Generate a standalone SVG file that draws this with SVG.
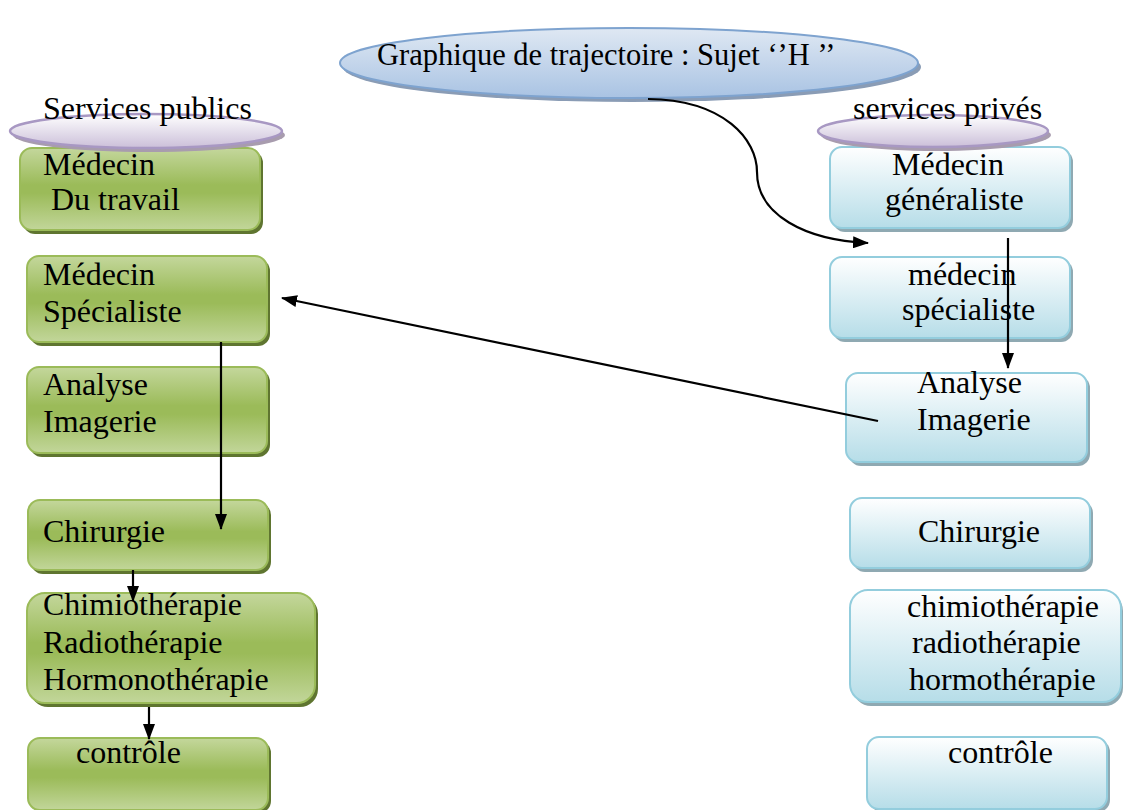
<svg xmlns="http://www.w3.org/2000/svg" width="1123" height="810" viewBox="0 0 1123 810">
<defs>
<linearGradient id="gGreen" x1="0" y1="0" x2="0" y2="1">
<stop offset="0" stop-color="#c4d79c"/>
<stop offset="0.45" stop-color="#9bbb59"/>
<stop offset="0.55" stop-color="#9bbb59"/>
<stop offset="1" stop-color="#c2d69a"/>
</linearGradient>
<linearGradient id="gBlue" x1="0" y1="0" x2="0" y2="1">
<stop offset="0" stop-color="#ffffff"/>
<stop offset="1" stop-color="#b6dde8"/>
</linearGradient>
<linearGradient id="gPurple" x1="0" y1="0" x2="0" y2="1">
<stop offset="0" stop-color="#ffffff"/>
<stop offset="1" stop-color="#cbbfd9"/>
</linearGradient>
<linearGradient id="gTitle" x1="0" y1="0" x2="0" y2="1">
<stop offset="0" stop-color="#dfe8f3"/>
<stop offset="1" stop-color="#a9c3e3"/>
</linearGradient>
<marker id="arr" markerUnits="userSpaceOnUse" markerWidth="16" markerHeight="12" refX="15" refY="6" orient="auto">
<path d="M0,0 L16,6 L0,12 Z" fill="#000"/>
</marker>
<style>
.t{font-family:"Liberation Serif","Times New Roman",serif;font-size:32px;fill:#000}
.tt{font-size:30.5px}
.gb{fill:url(#gGreen);stroke:#9bbb59;stroke-width:2}
.gs{fill:#5f7530}
.bb{fill:url(#gBlue);stroke:#93cddd;stroke-width:2}
.bs{fill:#8fa9b2}
.pe{fill:url(#gPurple);stroke:#a898c3;stroke-width:2.5}
.ps{fill:#a89cae}
.c{fill:none;stroke:#000;stroke-width:2.2;marker-end:url(#arr)}
</style>
</defs>
<rect width="1123" height="810" fill="#fff"/>

<g id="title">
<ellipse cx="632" cy="67" rx="289" ry="35" fill="#8a9cb5"/>
<ellipse cx="629" cy="63" rx="289" ry="35" fill="url(#gTitle)" stroke="#7ea3cf" stroke-width="2"/>
<text class="t tt" x="377" y="65">Graphique de trajectoire : Sujet ‘’H ’’</text>
</g>

<!-- left column -->
<g id="pub-medecin-travail">
<rect class="gs" x="23" y="151" width="240" height="83" rx="12"/>
<rect class="gb" x="20" y="148" width="240" height="82" rx="12"/>
<text class="t" x="43" y="175">Médecin</text>
<text class="t" x="51" y="210">Du travail</text>
</g>
<g id="pub-medecin-specialiste">
<rect class="gs" x="30" y="259" width="240" height="87" rx="12"/>
<rect class="gb" x="27" y="256" width="240" height="86" rx="12"/>
<text class="t" x="43" y="285">Médecin</text>
<text class="t" x="43" y="322">Spécialiste</text>
</g>
<g id="pub-analyse">
<rect class="gs" x="30" y="370" width="240" height="87" rx="12"/>
<rect class="gb" x="27" y="367" width="240" height="86" rx="12"/>
<text class="t" x="43" y="395">Analyse</text>
<text class="t" x="43" y="432">Imagerie</text>
</g>
<g id="pub-chirurgie">
<rect class="gs" x="31" y="503" width="240" height="71" rx="12"/>
<rect class="gb" x="28" y="500" width="240" height="70" rx="12"/>
<text class="t" x="43" y="542">Chirurgie</text>
</g>
<g id="pub-therapies">
<rect class="gs" x="30" y="596" width="288" height="111" rx="18"/>
<rect class="gb" x="27" y="593" width="288" height="110" rx="18"/>
<text class="t" x="43" y="615">Chimiothérapie</text>
<text class="t" x="43" y="653">Radiothérapie</text>
<text class="t" x="43" y="690">Hormonothérapie</text>
</g>
<g id="pub-controle">
<rect class="gs" x="31" y="741" width="240" height="72" rx="12"/>
<rect class="gb" x="28" y="738" width="240" height="72" rx="12"/>
<text class="t" x="76" y="763">contrôle</text>
</g>

<!-- right column -->
<g id="priv-generaliste">
<rect class="bs" x="833" y="150" width="240" height="82" rx="12"/>
<rect class="bb" x="830" y="147" width="240" height="81" rx="12"/>
<text class="t" x="892" y="175">Médecin</text>
<text class="t" x="885" y="210">généraliste</text>
</g>
<g id="priv-specialiste">
<rect class="bs" x="833" y="260" width="240" height="82" rx="12"/>
<rect class="bb" x="830" y="257" width="240" height="81" rx="12"/>
<text class="t" x="908" y="285">médecin</text>
<text class="t" x="902" y="320">spécialiste</text>
</g>
<g id="priv-analyse">
<rect class="bs" x="849" y="376" width="241" height="90" rx="12"/>
<rect class="bb" x="846" y="373" width="241" height="89" rx="12"/>
<text class="t" x="917" y="393">Analyse</text>
<text class="t" x="917" y="430">Imagerie</text>
</g>
<g id="priv-chirurgie">
<rect class="bs" x="853" y="501" width="240" height="71" rx="12"/>
<rect class="bb" x="850" y="498" width="240" height="70" rx="12"/>
<text class="t" x="918" y="542">Chirurgie</text>
</g>
<g id="priv-therapies">
<rect class="bs" x="853" y="593" width="270" height="113" rx="18"/>
<rect class="bb" x="850" y="590" width="271" height="112" rx="18"/>
<text class="t" x="907" y="617">chimiothérapie</text>
<text class="t" x="912" y="653">radiothérapie</text>
<text class="t" x="909" y="690">hormothérapie</text>
</g>
<g id="priv-controle">
<rect class="bs" x="870" y="740" width="240" height="72" rx="12"/>
<rect class="bb" x="867" y="737" width="240" height="72" rx="12"/>
<text class="t" x="948" y="763">contrôle</text>
</g>

<!-- headers -->
<g id="hdr-public">
<ellipse class="ps" cx="149" cy="135" rx="136" ry="17"/>
<ellipse class="pe" cx="146" cy="131" rx="136" ry="17"/>
<text class="t" x="43" y="119">Services publics</text>
</g>
<g id="hdr-prive">
<ellipse class="ps" cx="936" cy="135" rx="115" ry="16"/>
<ellipse class="pe" cx="933" cy="131" rx="115" ry="16"/>
<text class="t" x="853" y="119">services privés</text>
</g>

<g id="connectors">
<path class="c" d="M648,99 C725,100 757,140 757,172 C757,215 805,240 868,243"/>
<path class="c" d="M1008,238 L1008,368"/>
<path class="c" d="M878,421 L282,298"/>
<path class="c" d="M221,342 L221,529"/>
<path class="c" d="M133,570 L133,601"/>
<path class="c" d="M149,707 L149,739"/>
</g>
</svg>
